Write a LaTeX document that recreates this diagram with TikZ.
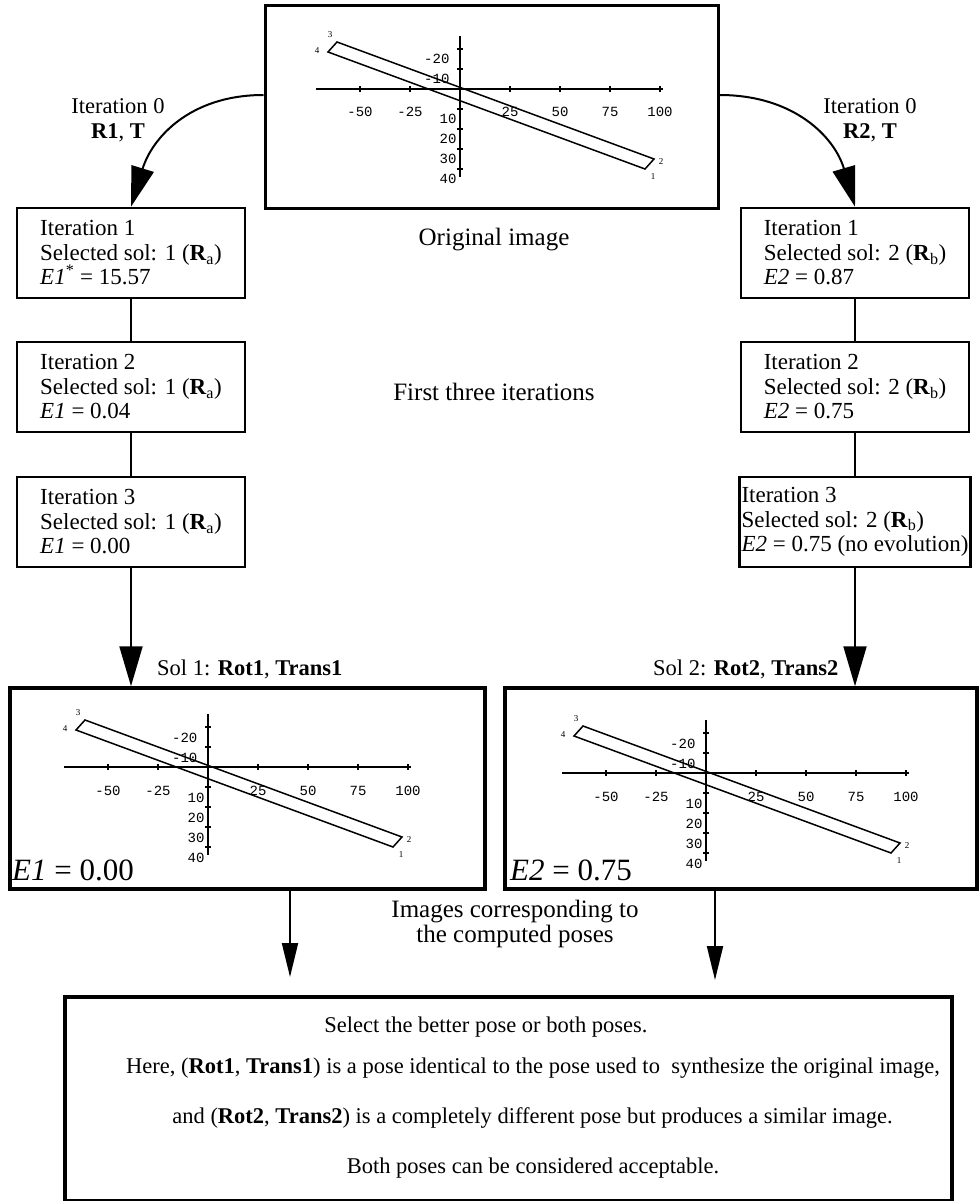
\documentclass[tikz,border=0pt]{standalone}
\usepackage{fontspec}
\setmainfont{Liberation Serif}
\newfontfamily\plotfont{Liberation Mono}
\usetikzlibrary{arrows.meta}

\tikzset{
  iterbox/.style={draw, line width=2.5pt, align=left, minimum width=228pt, minimum height=90pt, inner sep=2pt, font=\fontsize{23}{24.5}\selectfont},
  imgbox/.style={draw, line width=3.5pt, minimum height=201pt},
  txt/.style={inner sep=0pt, font=\fontsize{25}{24.5}\selectfont},
  smalltxt/.style={inner sep=0pt, font=\fontsize{22.5}{24.5}\selectfont},
  errtxt/.style={inner sep=0pt, anchor=base west, font=\fontsize{31}{31}\selectfont},
  axlabel/.style={inner sep=0pt, font=\plotfont\fontsize{14}{14}\selectfont},
  corner/.style={inner sep=0pt, font=\fontsize{9}{9}\selectfont},
  bigarrow/.style={-{Triangle[width=23pt,length=40pt]}, line width=2pt},
  smallarrow/.style={-{Triangle[width=16pt,length=34pt]}, line width=2pt},
}

\newcommand\poseplot[2]{%
  \begin{scope}[shift={(#1,#2)}, x=2pt, y=-2pt, line width=1.2pt]
    \draw (-72,0) -- (101.5,0);
    \draw (0,-26.5) -- (0,44);
    \foreach \tk in {-50,-25,25,50,75,100}{
      \draw (\tk,-1.5) -- (\tk,1.5);
      \node[axlabel, anchor=base] at (\tk,14) {\tk};}
    \foreach \tk/\lx in {-20/-5,-10/-5,10/-1.5,20/-1.5,30/-1.5,40/-1.5}{
      \draw (-1.5,\tk) -- (1.5,\tk);
      \node[axlabel, anchor=base east] at (\lx,\tk+7.5) {\tk};}
    \draw[line width=1.5pt] (-61.5,-23.5) -- (97,35) -- (92.5,40) -- (-66,-18.5) -- cycle;
    \node[corner] at (-65,-27) {3};
    \node[corner] at (-71.5,-19) {4};
    \node[corner] at (100.5,36.5) {2};
    \node[corner] at (96.5,44) {1};
  \end{scope}}

\begin{document}
\begin{tikzpicture}[x=1pt, y=-1pt]
  \useasboundingbox (0,0) rectangle (978,1201);

  \node[draw, line width=3pt, minimum width=453pt, minimum height=202pt] (orig) at (491.5,107) {};
  \poseplot{460}{89}
  \node[txt, anchor=base] (origlbl) at (494,245) {Original image};

  \node[iterbox] (l1) at (131,253) {Iteration 1\\Selected sol: 1 (\textbf{R}\textsubscript{a})\\\textit{E1}\textsuperscript{*} = 15.57};
  \node[iterbox] (l2) at (131,387) {Iteration 2\\Selected sol: 1 (\textbf{R}\textsubscript{a})\\\textit{E1} = 0.04};
  \node[iterbox] (l3) at (131,522) {Iteration 3\\Selected sol: 1 (\textbf{R}\textsubscript{a})\\\textit{E1} = 0.00};

  \node[iterbox] (r1) at (855,253) {Iteration 1\\Selected sol: 2 (\textbf{R}\textsubscript{b})\\\textit{E2} = 0.87};
  \node[iterbox] (r2) at (855,387) {Iteration 2\\Selected sol: 2 (\textbf{R}\textsubscript{b})\\\textit{E2} = 0.75};
  \node[iterbox] (r3) at (855,522) {Iteration 3\\Selected sol: 2 (\textbf{R}\textsubscript{b})\\\textit{E2} = 0.75 (no evolution)};

  \node[smalltxt, align=center] (it0l) at (118,120) {Iteration 0\\\textbf{R1}, \textbf{T}};
  \node[smalltxt, align=center] (it0r) at (870,120) {Iteration 0\\\textbf{R2}, \textbf{T}};
  \node[txt, anchor=base] (first) at (494,400) {First three iterations};

  \draw[bigarrow] ([yshift=12pt]orig.west) .. controls (190,95) and (152,138) .. (l1.north);
  \draw[bigarrow] ([yshift=12pt]orig.east) .. controls (795,95) and (835,138) .. (r1.north);
  \draw[line width=2pt] (l1) -- (l2);
  \draw[line width=2pt] (l2) -- (l3);
  \draw[line width=2pt] (r1) -- (r2);
  \draw[line width=2pt] (r2) -- (r3);

  \node[imgbox, minimum width=475pt] (p1) at (247.5,788.5) {};
  \poseplot{208}{767}
  \node[errtxt] (e1) at (12,880) {\textit{E1} = 0.00};
  \node[imgbox, minimum width=472pt] (p2) at (741,788.5) {};
  \poseplot{706}{773}
  \node[errtxt] (e2) at (510,880) {\textit{E2} = 0.75};

  \draw[bigarrow] (l3) -- (p1.north -| l3);
  \draw[bigarrow] (r3) -- (p2.north -| r3);
  \node[smalltxt, anchor=base west] (sol1) at (157,675) {Sol 1: \textbf{Rot1}, \textbf{Trans1}};
  \node[smalltxt, anchor=base west] (sol2) at (653,675) {Sol 2: \textbf{Rot2}, \textbf{Trans2}};

  \node[txt, align=center] (poses) at (515,924) {Images corresponding to\\the computed poses};
  \coordinate (t1) at (290,977);
  \coordinate (t2) at (715,980);
  \draw[smallarrow] (p1.south -| t1) -- (t1);
  \draw[smallarrow] (p2.south -| t2) -- (t2);

  \node[draw, line width=4pt, minimum width=887pt, minimum height=204pt] (sel) at (508.5,1099) {};
  \node[smalltxt, anchor=base] (selA) at (486,1032) {Select the better pose or both poses.};
  \node[smalltxt, anchor=base] (selB) at (533,1073) {Here, (\textbf{Rot1}, \textbf{Trans1}) is a pose identical to the pose used to\ \ synthesize the original image,};
  \node[smalltxt, anchor=base] (selC) at (532.5,1123) {and (\textbf{Rot2}, \textbf{Trans2}) is a completely different pose but produces a similar image.};
  \node[smalltxt, anchor=base] (selD) at (533,1173) {Both poses can be considered acceptable.};
\end{tikzpicture}
\end{document}
